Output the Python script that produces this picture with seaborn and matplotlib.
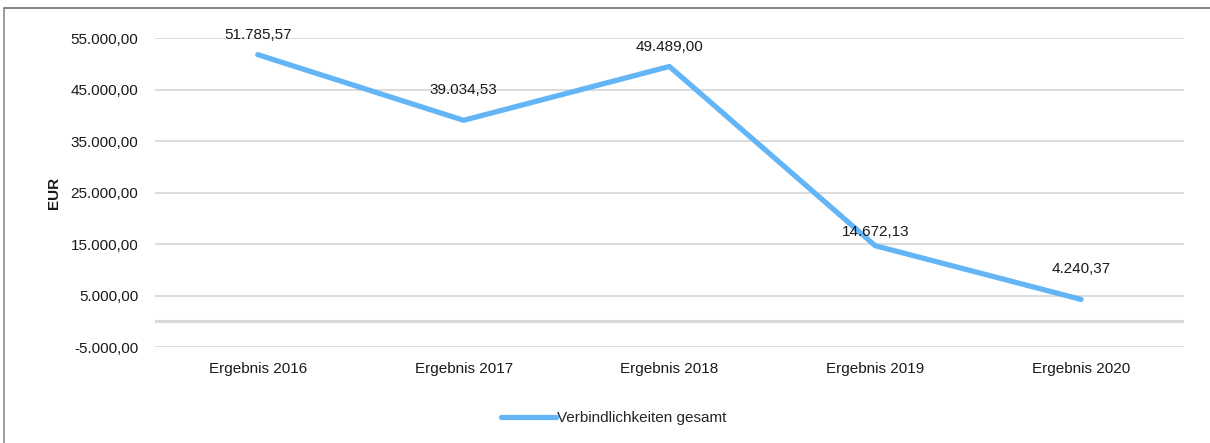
import pandas as pd
import matplotlib.pyplot as plt
import seaborn as sns
from matplotlib.lines import Line2D
from matplotlib.ticker import FuncFormatter, FixedLocator

# -------- Data --------
categories = ["Ergebnis 2016", "Ergebnis 2017", "Ergebnis 2018", "Ergebnis 2019", "Ergebnis 2020"]
values = [51785.57, 39034.53, 49489.00, 14672.13, 4240.37]
series_name = "Verbindlichkeiten gesamt"
y_ticks = [-5000, 5000, 15000, 25000, 35000, 45000, 55000]

df = pd.DataFrame({"cat": categories, "val": values, "series": series_name})

def de_fmt(v, pos=None):
    s = f"{v:,.2f}"
    return s.replace(",", "X").replace(".", ",").replace("X", ".")

# -------- Style --------
sns.set_theme(style="white")
plt.rcParams["font.family"] = ["Liberation Sans", "DejaVu Sans"]

line_color = "#64b5f6"
grid_color = "#d9d9d9"
text_color = "#1a1a1a"
fs = 11

fig = plt.figure(figsize=(12.1, 4.43), dpi=100)
# chart frame (only top and left edge visible in reference)
fig.add_artist(Line2D([4 / 1210, 1], [1 - 8 / 443] * 2, color="#6e6e6e", lw=1.2))
fig.add_artist(Line2D([4 / 1210] * 2, [0, 1 - 8 / 443], color="#8c8c8c", lw=1.2))

ax = fig.add_axes([0.128, 0.2167, 0.8505, 0.6973])

sns.lineplot(data=df, x="cat", y="val", hue="series", palette=[line_color],
             linewidth=3.8, sort=False, ax=ax, legend=True,
             solid_capstyle="round", solid_joinstyle="round", zorder=3)

ax.set_xlim(-0.5, len(categories) - 0.5)
ax.set_ylim(-5000, 55000)
ax.yaxis.set_major_locator(FixedLocator(y_ticks))
ax.yaxis.set_major_formatter(FuncFormatter(de_fmt))

for y in y_ticks:
    ax.axhline(y, color=grid_color, lw=1.3, zorder=1)
ax.axhline(0, color=grid_color, lw=2.2, zorder=1)

for s in ax.spines.values():
    s.set_visible(False)
ax.tick_params(axis="both", length=0, labelsize=fs, colors=text_color)
ax.tick_params(axis="y", pad=12)
ax.tick_params(axis="x", pad=11)
ax.set_xlabel("")
ax.set_ylabel("EUR", fontsize=fs, fontweight="bold", color=text_color, labelpad=7)

# -------- Data labels --------
offsets = [9, 17, 9, 5, 17]
for i, (v, off) in enumerate(zip(values, offsets)):
    ax.annotate(de_fmt(v), (i, v), xytext=(0, off), textcoords="offset points",
                ha="center", va="bottom", fontsize=fs, color=text_color, zorder=4)

# -------- Legend --------
ax.legend_.remove()
handles, labels = ax.get_legend_handles_labels()
fig.legend(handles, labels, loc="center", bbox_to_anchor=(0.507, 0.056),
           frameon=False, fontsize=fs, handlelength=3.6, handletextpad=0.1)

plt.savefig("out.png", dpi=100)
plt.close()
